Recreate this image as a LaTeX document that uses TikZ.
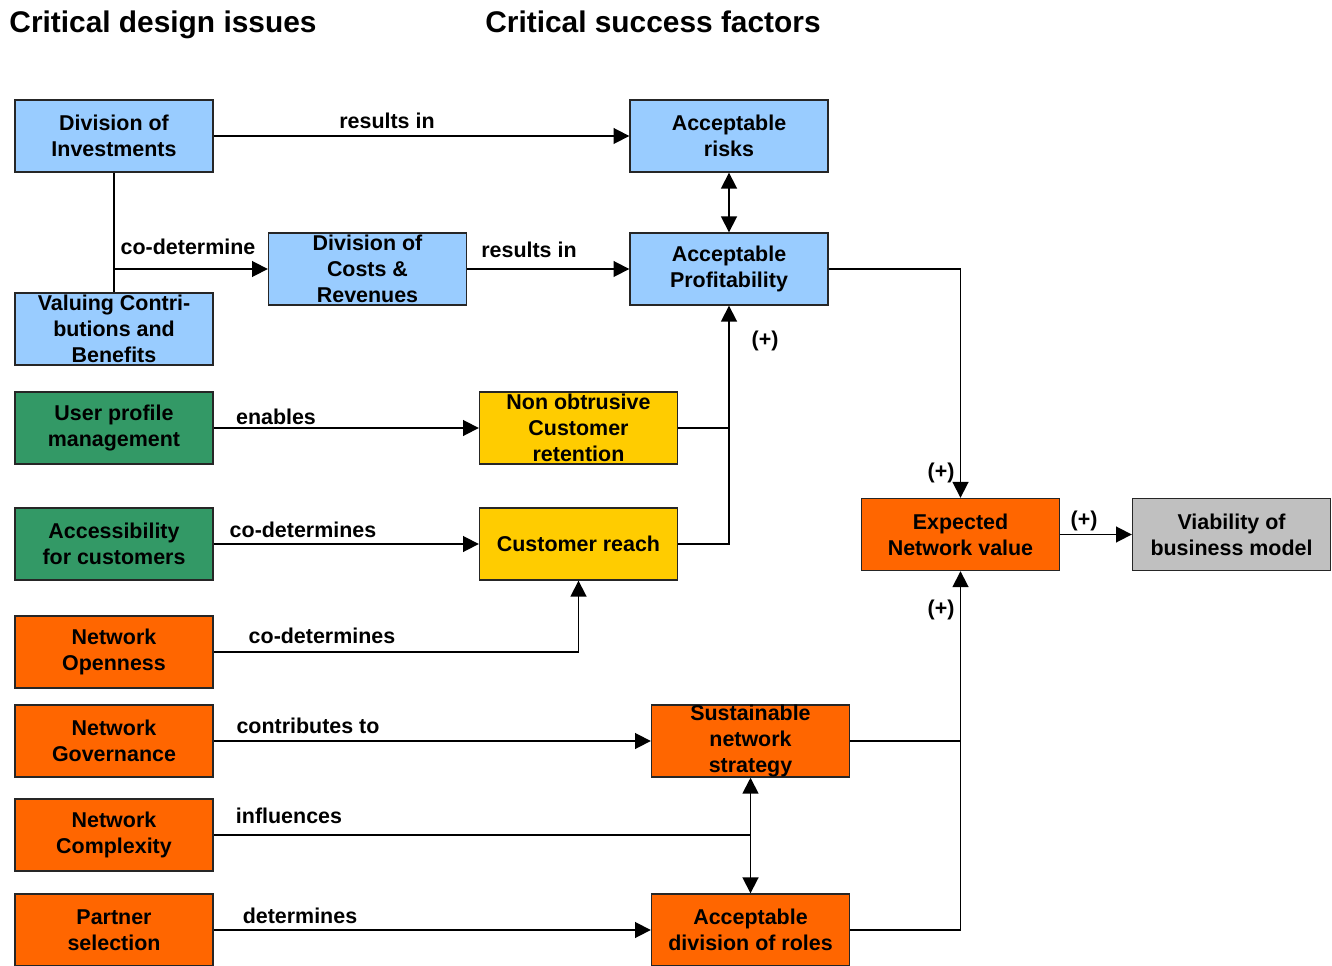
\documentclass[tikz,border=0pt]{standalone}
\usepackage{fontspec}
\setmainfont{Liberation Sans}
\usetikzlibrary{arrows.meta, positioning}
\usepackage{xcolor}
\definecolor{cblue}{RGB}{153,204,255}
\definecolor{cgreen}{RGB}{51,153,102}
\definecolor{cyellow}{RGB}{255,204,0}
\definecolor{corange}{RGB}{255,102,0}
\definecolor{cgray}{RGB}{192,192,192}

\begin{document}
\begin{tikzpicture}[x=0.02cm,y=-0.02cm,
  box/.style={draw=black!85,line width=0.8pt,minimum width=3.96cm,minimum height=1.44cm,
              inner sep=0pt,align=center,font=\bfseries\fontsize{12.2}{14.8}\selectfont},
  lbl/.style={font=\bfseries\fontsize{12.2}{14.8}\selectfont,inner sep=0pt},
  ttl/.style={font=\bfseries\fontsize{17}{20}\selectfont,inner sep=0pt,anchor=base},
  arr/.style={-{Triangle[length=9pt,width=9pt]},line width=1pt},
  dbl/.style={{Triangle[length=9pt,width=9pt]}-{Triangle[length=9pt,width=9pt]},line width=1pt},
  ln/.style={line width=1pt}
]
\useasboundingbox (0,0) rectangle (1332,966);
% titles
\node[ttl] (tdes) at (163,33) {Critical design issues};
\node[ttl] (tsuc) at (653,33) {Critical success factors};
% boxes
\node[box,fill=cblue]   (inv)   at (114,136)     {Division of\\Investments};
\node[box,fill=cblue]   (risk)  at (729,136)     {Acceptable\\risks};
\node[box,fill=cblue]   (cost)  at (367.5,269)   {Division of\\Costs \&\\Revenues};
\node[box,fill=cblue]   (prof)  at (729,269)     {Acceptable\\Profitability};
\node[box,fill=cblue]   (val)   at (114,329)     {Valuing Contri-\\butions and\\Benefits};
\node[box,fill=cgreen]  (user)  at (114,428)     {User profile\\management};
\node[box,fill=cyellow] (ret)   at (578.5,428)   {Non obtrusive\\Customer\\retention};
\node[box,fill=cgreen]  (acc)   at (114,544)     {Accessibility\\for customers};
\node[box,fill=cyellow] (reach) at (578.5,544)   {Customer reach};
\node[box,fill=corange] (env)   at (960.5,534.5) {Expected\\Network value};
\node[box,fill=cgray]   (via)   at (1231.5,534.5){Viability of\\business model};
\node[box,fill=corange] (open)  at (114,652)     {Network\\Openness};
\node[box,fill=corange] (gov)   at (114,741)     {Network\\Governance};
\node[box,fill=corange] (sns)   at (750.5,741)   {Sustainable\\network\\strategy};
\node[box,fill=corange] (cplx)  at (114,835)     {Network\\Complexity};
\node[box,fill=corange] (part)  at (114,930)     {Partner\\selection};
\node[box,fill=corange] (roles) at (750.5,930)   {Acceptable\\division of roles};
% connectors
\draw[arr] (inv) -- (risk);
\draw[ln]  (inv) -- (val);
\draw[arr] (inv.south |- cost.west) -- (cost);
\draw[arr] (cost) -- (prof);
\draw[dbl] (risk) -- (prof);
\draw[arr] (prof.east) -| (env.north);
\draw[arr] (ret.east) -| (prof.south);
\draw[ln]  (reach.east) -| (prof.south |- ret.east);
\draw[arr] (user) -- (ret);
\draw[arr] (acc) -- (reach);
\draw[arr] (open.east) -| (reach.south);
\draw[arr] (gov) -- (sns);
\draw[ln]  (cplx.east) -- (cplx.east -| sns.south);
\draw[dbl] (sns) -- (roles);
\draw[arr] (part) -- (roles);
\draw[arr] (roles.east) -| (env.south);
\draw[ln]  (sns.east) -- (sns.east -| env.south);
\draw[arr] (env) -- (via);
% labels
\node[lbl] (l1)  at (387,121) {results in};
\node[lbl] (l2)  at (188,247) {co-determine};
\node[lbl] (l3)  at (529,250) {results in};
\node[lbl] (l4)  at (765,341) {(+)};
\node[lbl] (l5)  at (276,417) {enables};
\node[lbl] (l6)  at (303,530) {co-determines};
\node[lbl] (l7)  at (941,473) {(+)};
\node[lbl] (l8)  at (1084,521) {(+)};
\node[lbl] (l9)  at (941,610) {(+)};
\node[lbl] (l10) at (322,636) {co-determines};
\node[lbl] (l11) at (308,726) {contributes to};
\node[lbl] (l12) at (289,816) {influences};
\node[lbl] (l13) at (300,916) {determines};
\end{tikzpicture}
\end{document}
